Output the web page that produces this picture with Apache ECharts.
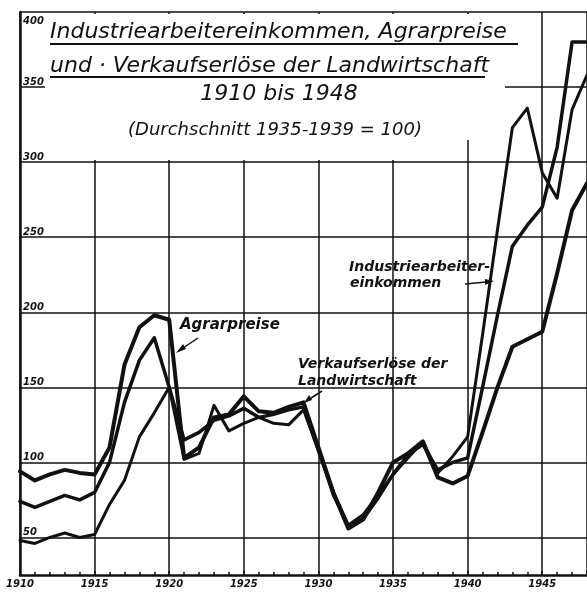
<!DOCTYPE html>
<html>
<head>
<meta charset="utf-8">
<script src="https://cdn.jsdelivr.net/npm/echarts@6/dist/echarts.min.js"></script>
<style>
html, body { margin: 0; padding: 0; background: #fff; }
#chart { width: 587px; height: 592px; }
</style>
</head>
<body>
<div id="chart"></div>
<script>
var myChart = echarts.init(document.getElementById('chart'));

// Jahre 1910 - 1948
var jahre = [1910,1911,1912,1913,1914,1915,1916,1917,1918,1919,
             1920,1921,1922,1923,1924,1925,1926,1927,1928,1929,
             1930,1931,1932,1933,1934,1935,1936,1937,1938,1939,
             1940,1941,1942,1943,1944,1945,1946,1947,1948];

// Index, Durchschnitt 1935-1939 = 100
var agrarpreise = [94,88,92,95,93,92,110,165,190,198,
                   195,103,110,130,132,144,134,133,137,140,
                   110,80,56,62,80,100,106,114,90,86,
                   91,120,150,177,182,187,226,268,286];
var verkaufserloese = [74,70,74,78,75,80,100,140,168,183,
                       150,115,120,128,131,136,130,132,135,137,
                       108,80,58,65,78,92,105,112,95,100,
                       103,150,198,244,258,270,310,380,380];
var industrieeinkommen = [48,46,50,53,50,52,72,88,117,133,
                          150,102,106,138,121,126,130,126,125,135,
                          108,78,58,62,76,92,103,114,93,104,
                          117,185,255,323,336,293,276,335,358];

var yTicks = [50,100,150,200,250,300,350,400];

function paare(werte) {
    return jahre.map(function(j, i) {
        return [j, werte[i]];
    });
}

var schrift = '"DejaVu Sans", sans-serif';

function text(t, x, y, size, bold, align) {
    return {
        type: 'text', z: 10,
        style: {
            text: t, x: x, y: y,
            font: 'italic ' + (bold ? 'bold ' : '') + size + 'px ' + schrift,
            fill: '#111',
            textAlign: align || 'left',
            textVerticalAlign: 'middle'
        }
    };
}
function strich(x1, y1, x2, y2, w) {
    return {
        type: 'line', z: 10,
        shape: { x1: x1, y1: y1, x2: x2, y2: y2 },
        style: { stroke: '#111', lineWidth: w || 2 }
    };
}
function spitze(pts) {
    return { type: 'polygon', z: 10, shape: { points: pts }, style: { fill: '#111' } };
}

myChart.setOption({
    animation: false,
    backgroundColor: '#fff',
    grid: { left: 20, right: -3, top: 12, bottom: 17 },
    xAxis: {
        type: 'value',
        min: 1910, max: 1948, interval: 5,
        axisLine: { lineStyle: { color: '#111', width: 2.5 } },
        axisTick: { inside: true, length: 4, lineStyle: { color: '#111', width: 1.5 } },
        minorTick: { show: true, splitNumber: 5, length: 3, lineStyle: { color: '#111', width: 1.5 } },
        splitLine: { show: true, lineStyle: { color: '#111', width: 1.5 } },
        axisLabel: {
            showMaxLabel: false,
            color: '#111', margin: 4,
            fontSize: 10, fontStyle: 'italic', fontWeight: 'bold', fontFamily: schrift,
            formatter: function(v) { return String(v); }
        }
    },
    yAxis: {
        type: 'value',
        min: 25, max: 400, interval: 25,
        axisLine: { show: true, lineStyle: { color: '#111', width: 2.5 } },
        axisTick: { show: false },
        splitLine: { show: true, lineStyle: { color: ['rgba(0,0,0,0)', '#111'], width: 1.5 } },
        axisLabel: {
            inside: true, margin: 3,
            verticalAlign: 'bottom',
            color: '#111',
            fontSize: 10, fontStyle: 'italic', fontWeight: 'bold', fontFamily: schrift,
            formatter: function(v) {
                return (yTicks.indexOf(v) >= 0 && v !== 400) ? String(v) : '';
            }
        }
    },
    series: [
        {
            name: 'Agrarpreise', type: 'line', symbol: 'none', z: 4,
            lineStyle: { color: '#111', width: 4, cap: 'round', join: 'round' },
            data: paare(agrarpreise)
        },
        {
            name: 'Verkaufserlöse der Landwirtschaft', type: 'line', symbol: 'none', z: 4,
            lineStyle: { color: '#111', width: 3.5, cap: 'round', join: 'round' },
            data: paare(verkaufserloese)
        },
        {
            name: 'Industriearbeitereinkommen', type: 'line', symbol: 'none', z: 4,
            lineStyle: { color: '#111', width: 3, cap: 'round', join: 'round' },
            data: paare(industrieeinkommen)
        }
    ],
    graphic: [
        // Titelfeld deckt das Gitter ab
        { type: 'rect', z: 1, shape: { x: 45, y: 14, width: 420, height: 146 }, style: { fill: '#fff' } },
        { type: 'rect', z: 1, shape: { x: 465, y: 14, width: 40, height: 126 }, style: { fill: '#fff' } },

        text('400', 23, 21, 10, true),

        text('Industriearbeitereinkommen, Agrarpreise', 50, 32, 22, false),
        strich(50, 44, 518, 44, 2),
        text('und · Verkaufserlöse der Landwirtschaft', 50, 66, 22, false),
        strich(50, 77, 485, 77, 2),
        text('1910 bis 1948', 279, 94, 22, false, 'center'),
        text('(Durchschnitt 1935-1939 = 100)', 275, 130, 18, false, 'center'),

        text('Agrarpreise', 180, 325, 15, true),
        strich(198, 338, 180, 350, 1.5),
        spitze([[176, 353], [183, 344], [186, 349]]),

        text('Verkaufserlöse der', 298, 364, 14, true),
        text('Landwirtschaft', 298, 381, 14, true),
        strich(322, 391, 308, 400, 1.5),
        spitze([[304, 403], [309, 395], [312, 400]]),

        text('Industriearbeiter-', 349, 267, 14, true),
        text('einkommen', 350, 283, 14, true),
        strich(465, 284, 486, 282, 1.5),
        spitze([[494, 281], [485, 279], [485, 285]])
    ]
});
</script>
</body>
</html>
